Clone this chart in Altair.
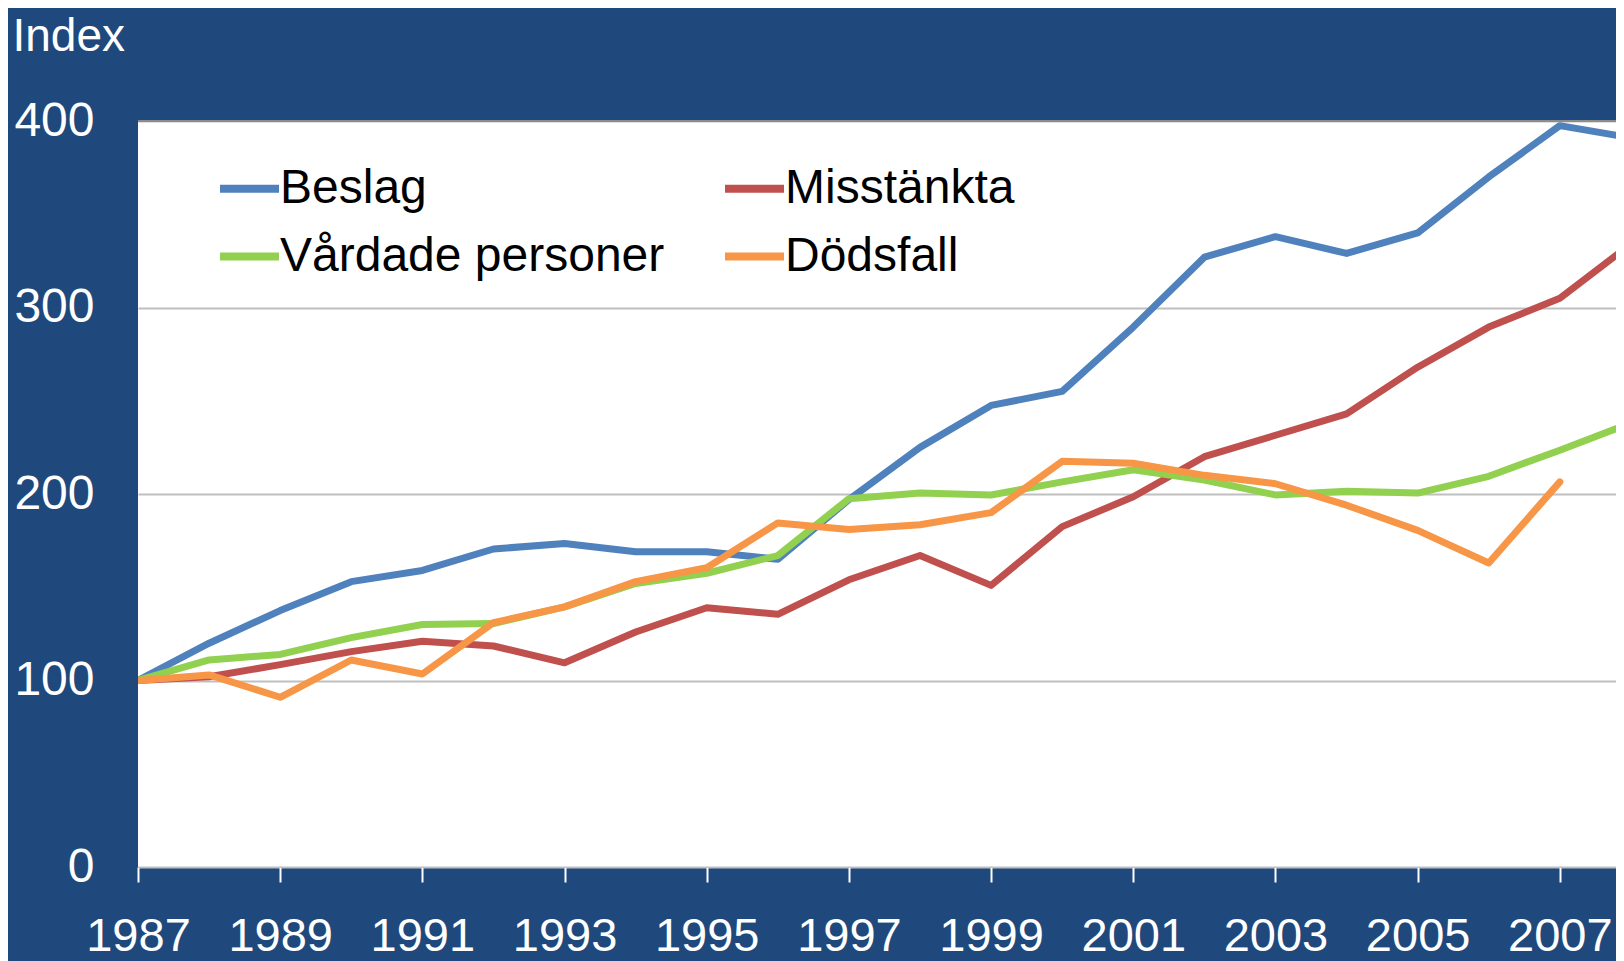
import altair as alt
import pandas as pd

years = list(range(1987, 2009))
series_names = ["Beslag", "Misstänkta", "Vårdade personer", "Dödsfall"]
legend_order = ["Beslag", "Vårdade personer", "Misstänkta", "Dödsfall"]
legend_colors = ["#4F81BD", "#92D050", "#C0504D", "#F79646"]

beslag = [100, 120, 137.5, 153, 159, 170.5, 173.5, 169, 169, 165, 197, 225,
          247.5, 255, 289.5, 327, 338, 329, 340, 370, 397.5, 391]
misstankta = [100, 102, 108.5, 115.5, 121, 118.5, 109.5, 126, 139, 135.5, 154, 167,
              151, 182.5, 198.5, 220, 231.5, 243, 268, 289.5, 305, 334]
vardade = [100, 111, 114, 123, 130, 130.5, 139.5, 152, 157.5, 167, 197.5, 200.5,
           199.5, 206.5, 213, 207.5, 199.5, 201.5, 200.5, 209.5, 223.5, 238]
dodsfall = [100, 103, 91, 111, 103.5, 131, 139.5, 153, 160.5, 184.5, 181, 183.5,
            190, 217.5, 216.5, 210, 205.5, 194, 180.5, 163, 206.5]

y_ticks = [0, 100, 200, 300, 400]
x_ticks = list(range(1987, 2008, 2))

rows = []
for name, vals in zip(series_names, [beslag, misstankta, vardade, dodsfall]):
    for yr, v in zip(years, vals):
        rows.append({"year": yr, "value": v, "series": name})
df = pd.DataFrame(rows)

FONT = "Liberation Sans"

x_scale = alt.Scale(domain=[1987, 2007.79], nice=False, zero=False)
y_scale = alt.Scale(domain=[0, 400], nice=False)

lines = alt.Chart(df).mark_line(
    strokeWidth=7, strokeJoin="round", strokeCap="round", clip=True
).encode(
    x=alt.X("year:Q", scale=x_scale,
            axis=alt.Axis(values=x_ticks, format="d", grid=False, tickSize=15,
                          tickWidth=2, tickColor="white", domainColor="#BFBFBF",
                          domainWidth=1, labelFontSize=47, labelColor="white",
                          labelFont=FONT, labelPadding=31, labelFlush=False,
                          labelOverlap=False, title=None)),
    y=alt.Y("value:Q", scale=y_scale,
            axis=alt.Axis(values=y_ticks, grid=True, gridColor="#BFBFBF",
                          gridWidth=2, domain=False, ticks=False, tickSize=0,
                          labelPadding=44, labelFontSize=48, labelColor="white",
                          labelFont=FONT, title="Index", titleAngle=0,
                          titleAlign="left", titleBaseline="top", titleX=-126,
                          titleY=-107, titleFontSize=46, titleFontWeight="normal",
                          titleColor="white", titleFont=FONT)),
    color=alt.Color("series:N",
                    scale=alt.Scale(domain=legend_order, range=legend_colors),
                    legend=alt.Legend(orient="none", legendX=78, legendY=34,
                                      columns=2, columnPadding=44, rowPadding=10,
                                      symbolType="stroke", symbolSize=3481,
                                      symbolStrokeWidth=8,
                                      labelOffset={"expr": "-3"},
                                      labelFontSize=48, labelFont=FONT,
                                      labelColor="black", labelLimit=0,
                                      padding=0, title=None)),
)

top_rule = alt.Chart(pd.DataFrame({"v": [400]})).mark_rule(
    color="#8C8C8C", strokeWidth=2
).encode(y=alt.Y("v:Q", scale=y_scale))

chart = alt.layer(top_rule, lines).properties(
    width=1478, height=746,
    padding={"left": 130, "top": 113, "right": 0, "bottom": 94},
    autosize=alt.AutoSizeParams(type="none"),
    background="#1F497D",
).configure_view(fill="white", stroke=None)

chart.save("out.html", embed_options={"renderer": "svg", "actions": False})
